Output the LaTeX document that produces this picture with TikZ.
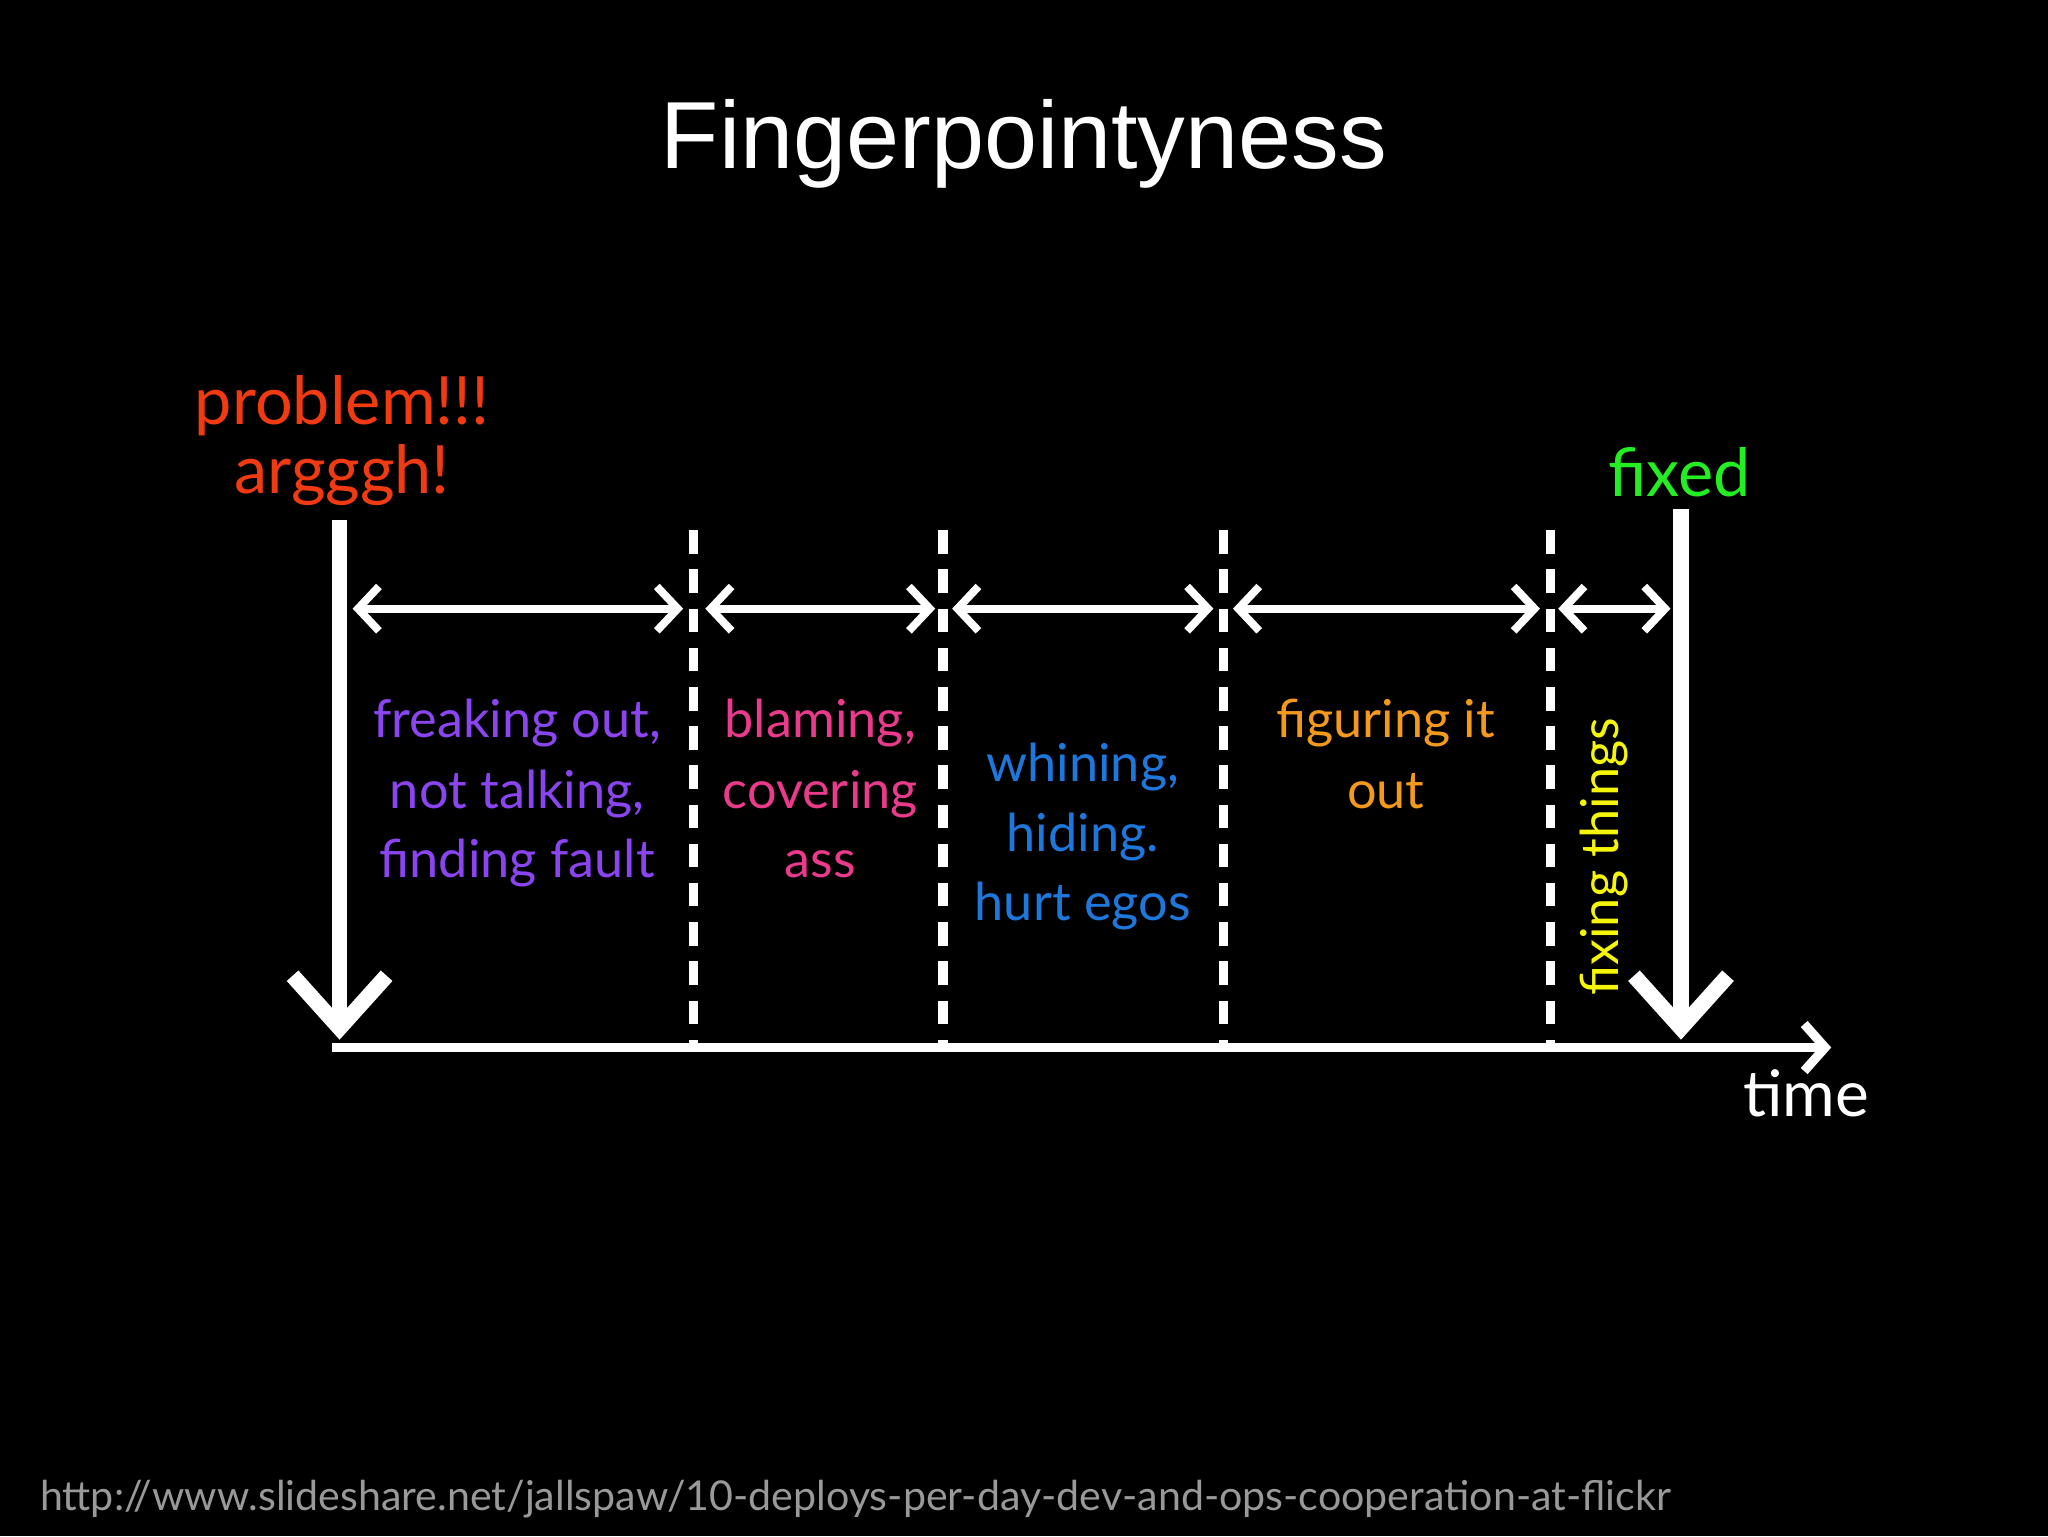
\documentclass[tikz,border=0pt]{standalone}
\usepackage{fontspec}
\setmainfont{Lato}
\newfontfamily\titlefont{Liberation Sans}
\usetikzlibrary{arrows.meta}
\definecolor{cpurple}{HTML}{8A45F0}
\definecolor{cpink}{HTML}{EA3A8C}
\definecolor{cblue}{HTML}{1E78DC}
\definecolor{corange}{HTML}{F39A1C}
\definecolor{cyel}{HTML}{F5F50A}
\definecolor{cred}{HTML}{F03A12}
\definecolor{cgreen}{HTML}{22EE22}
\begin{document}
\begin{tikzpicture}[x=1pt,y=-1pt,
  lbl/.style={inner sep=0pt,anchor=base,font=\fontsize{40}{48}\selectfont},
  big lbl/.style={inner sep=0pt,anchor=base,font=\fontsize{51}{60}\selectfont},
  dbl/.style={white,line width=6pt,{Straight Barb[length=16pt,width=34pt]}-{Straight Barb[length=16pt,width=34pt]}},
  big/.style={white,line width=12pt,-{Straight Barb[length=40pt,width=72pt]}},
  dsh/.style={white,line width=7pt,dash pattern=on 18pt off 12pt}]
\fill[black] (0,0) rectangle (1568,1176);
\useasboundingbox (0,0) rectangle (1568,1176);
\node[white,font=\titlefont\fontsize{73}{84}\selectfont] (title) at (784,110) {Fingerpointyness};
\node[big lbl,cred] (p1) at (262,325) {problem!!!};
\node[big lbl,cred] (p2) at (262,378) {argggh!};
\node[big lbl,cgreen] (fx) at (1286,380) {fixed};
% axis
\coordinate (a0) at (254,802); \coordinate (a1) at (1402,802);
\draw[white,line width=7pt,-{Straight Barb[length=16pt,width=36pt]}] (a0) -- (a1);
\node[big lbl,white,font=\fontsize{49}{58}\selectfont] (time) at (1383,855) {time};
% big arrows
\coordinate (l0) at (260,398); \coordinate (l1) at (260,796);
\coordinate (r0) at (1287,390); \coordinate (r1) at (1287,796);
\draw[big] (l0) -- (l1);
\draw[big] (r0) -- (r1);
% dashed
\foreach \x/\n in {531/d1,722/d2,937/d3,1187/d4}{
  \coordinate (\n t) at (\x,406); \coordinate (\n b) at (\x,800);
  \draw[dsh] (\n t) -- (\n b);}
% double arrows
\foreach \a/\b/\n in {270/523/e1,540/716/e2,729/929/e3,944/1179/e4,1193/1279/e5}{
  \coordinate (\n a) at (\a,466); \coordinate (\n b) at (\b,466);
  \draw[dbl] (\n a) -- (\n b);}
% labels
\node[lbl,cpurple] (f1) at (396,565) {freaking out,};
\node[lbl,cpurple] (f2) at (396,619) {not talking,};
\node[lbl,cpurple] (f3) at (396,672) {finding fault};
\node[lbl,cpink] (b1) at (628,565) {blaming,};
\node[lbl,cpink] (b2) at (628,619) {covering};
\node[lbl,cpink] (b3) at (628,672) {ass};
\node[lbl,cblue] (w1) at (829,598) {whining,};
\node[lbl,cblue] (w2) at (829,652) {hiding.};
\node[lbl,cblue] (w3) at (829,705) {hurt egos};
\node[lbl,corange] (g1) at (1061,565) {figuring it};
\node[lbl,corange] (g2) at (1061,619) {out};
\node[cyel,inner sep=0pt,rotate=90,font=\fontsize{40}{48}\selectfont] (fi) at (1228,656) {fixing things};
\node[gray!80,inner sep=0pt,font=\fontsize{31.5}{36}\selectfont] (url) at (655,1148) {http://www.slideshare.net/jallspaw/10-deploys-per-day-dev-and-ops-cooperation-at-flickr};
\end{tikzpicture}
\end{document}
